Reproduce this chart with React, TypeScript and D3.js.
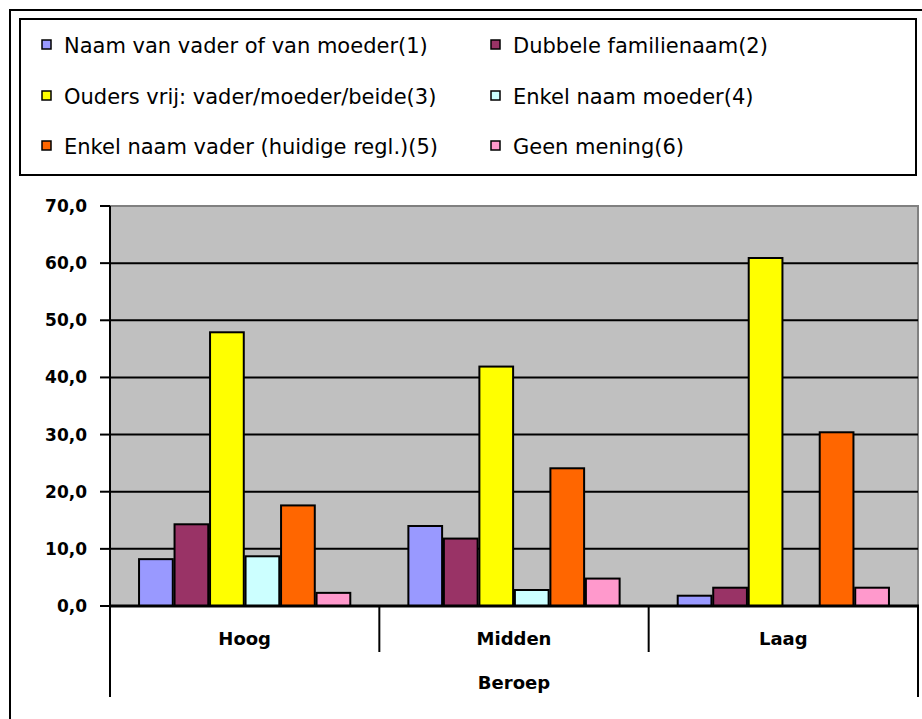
import React from 'react';
import * as d3 from 'd3';

const categories = ['Hoog', 'Midden', 'Laag'];
const seriesNames = [
  'Naam van vader of van moeder(1)',
  'Dubbele familienaam(2)',
  'Ouders vrij: vader/moeder/beide(3)',
  'Enkel naam moeder(4)',
  'Enkel naam vader (huidige regl.)(5)',
  'Geen mening(6)',
];
const seriesColors = ['#9999ff', '#993366', '#ffff00', '#ccffff', '#ff6600', '#ff99cc'];
// values per series, in order Hoog / Midden / Laag
const naamVaderOfMoeder = [8.2, 14.0, 1.8];
const dubbeleNaam = [14.3, 11.8, 3.2];
const oudersVrij = [47.9, 41.9, 60.9];
const enkelMoeder = [8.7, 2.8, 0];
const enkelVader = [17.6, 24.1, 30.4];
const geenMening = [2.3, 4.8, 3.2];
const seriesValues = [naamVaderOfMoeder, dubbeleNaam, oudersVrij, enkelMoeder, enkelVader, geenMening];
const yTicks = [0, 10, 20, 30, 40, 50, 60, 70];
const xTitle = 'Beroep';

const W = 922;
const H = 719;
const plot = { left: 110, right: 918, top: 206, bottom: 606 };

export default function App() {
  const x0 = d3.scaleBand<string>().domain(categories).range([plot.left, plot.right]).padding(0);
  const x1 = d3.scaleBand<number>()
    .domain(d3.range(seriesNames.length))
    .range([0, x0.bandwidth()])
    .paddingInner(0.05)
    .paddingOuter(0.818);
  const y = d3.scaleLinear().domain([0, 70]).range([plot.bottom, plot.top]);
  const fmt = (v: number) => v.toFixed(1).replace('.', ',');

  const legendRows = [53, 104, 154];
  const legendCols = [42, 491];

  return (
    <svg width={W} height={H} style={{ position: 'absolute', left: 0, top: 0, background: '#fff' }}>
      {/* outer frame */}
      <path d={`M10,${H} V10 H${W}`} fill="none" stroke="#000" strokeWidth={2} />
      {/* legend */}
      <rect x={20} y={19} width={896} height={156} fill="none" stroke="#000" strokeWidth={2} />
      {seriesNames.map((name, i) => {
        const cx = legendCols[i % 2];
        const by = legendRows[Math.floor(i / 2)];
        return (
          <g key={name}>
            <rect x={cx} y={by - 13} width={9} height={9} fill={seriesColors[i]} stroke="#000" strokeWidth={1.5} />
            <text x={cx + 22} y={by} fontFamily="DejaVu Sans" fontSize={21} fill="#000">{name}</text>
          </g>
        );
      })}

      {/* plot background */}
      <rect x={plot.left} y={plot.top} width={plot.right - plot.left} height={plot.bottom - plot.top}
        fill="#c0c0c0" stroke="#808080" strokeWidth={2} />
      {/* gridlines */}
      {yTicks.filter(t => t > 0 && t < 70).map(t => (
        <line key={t} x1={plot.left} x2={plot.right} y1={y(t)} y2={y(t)} stroke="#000" strokeWidth={2} />
      ))}
      {/* bars */}
      {categories.map((c, ci) => (
        <g key={c} transform={`translate(${x0(c)},0)`}>
          {seriesValues.map((vals, si) => vals[ci] > 0 ? (
            <rect key={si} x={x1(si)} y={y(vals[ci])} width={x1.bandwidth()} height={y(0) - y(vals[ci])}
              fill={seriesColors[si]} stroke="#000" strokeWidth={2} />
          ) : null)}
        </g>
      ))}
      {/* y axis */}
      <line x1={plot.left} x2={plot.left} y1={plot.top} y2={697} stroke="#000" strokeWidth={2} />
      {yTicks.map(t => (
        <g key={t}>
          <line x1={100} x2={plot.left} y1={y(t)} y2={y(t)} stroke="#000" strokeWidth={2} />
          <text x={87} y={y(t) + 6} textAnchor="end" fontFamily="DejaVu Sans" fontWeight="bold" fontSize={17} fill="#000">{fmt(t)}</text>
        </g>
      ))}
      {/* x axis */}
      <line x1={plot.left} x2={plot.right + 1} y1={plot.bottom} y2={plot.bottom} stroke="#000" strokeWidth={3} />
      {categories.map((c, ci) => (
        <g key={c}>
          {ci > 0 && <line x1={x0(c)} x2={x0(c)} y1={plot.bottom} y2={652} stroke="#000" strokeWidth={2} />}
          <text x={(x0(c) as number) + x0.bandwidth() / 2} y={645} textAnchor="middle"
            fontFamily="DejaVu Sans" fontWeight="bold" fontSize={18} fill="#000">{c}</text>
        </g>
      ))}
      <line x1={plot.right} x2={plot.right} y1={plot.bottom} y2={697} stroke="#000" strokeWidth={2} />
      <text x={(plot.left + plot.right) / 2} y={689} textAnchor="middle"
        fontFamily="DejaVu Sans" fontWeight="bold" fontSize={18} fill="#000">{xTitle}</text>
    </svg>
  );
}
